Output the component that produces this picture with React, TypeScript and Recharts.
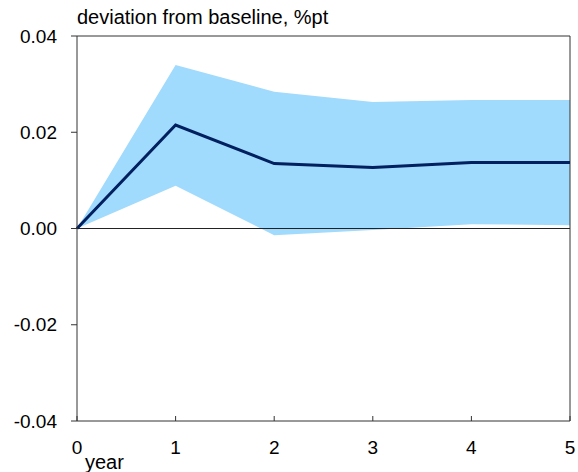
import React from "react";
import {
  Area,
  ComposedChart,
  Line,
  ReferenceLine,
  XAxis,
  YAxis,
} from "recharts";

const years = [0, 1, 2, 3, 4, 5];
const central = [0, 0.0215, 0.0135, 0.0127, 0.0137, 0.0137];
const upper = [0, 0.034, 0.0284, 0.0263, 0.0267, 0.0267];
const lower = [0, 0.0089, -0.0014, -0.0003, 0.0009, 0.0007];
const yTicks = [-0.04, -0.02, 0, 0.02, 0.04];

const data = years.map((year, i) => ({
  year,
  mid: central[i],
  band: [lower[i], upper[i]],
}));

const FONT = "'Liberation Sans', Arial, sans-serif";
const AXIS = "#333";

function XTick(props: any) {
  const { x, y, payload } = props;
  return (
    <g>
      <line x1={x} x2={x} y1={y - 5} y2={y} stroke={AXIS} strokeWidth={1} />
      <text x={x} y={y + 33} textAnchor="middle" fontSize={19} fontFamily={FONT} fill="#000">
        {payload.value}
      </text>
    </g>
  );
}

export default function App() {
  return (
    <div style={{ position: "absolute", left: 0, top: 0, width: 578, height: 472, background: "#fff" }}>
      <div
        style={{
          position: "absolute",
          left: 77,
          top: 6,
          fontFamily: FONT,
          fontSize: 20,
          lineHeight: "22px",
          color: "#000",
          whiteSpace: "nowrap",
        }}
      >
        deviation from baseline, %pt
      </div>
      <div
        style={{
          position: "absolute",
          left: 85,
          top: 451,
          fontFamily: FONT,
          fontSize: 20,
          lineHeight: "22px",
          color: "#000",
        }}
      >
        year
      </div>
      <ComposedChart
        width={578}
        height={472}
        data={data}
        margin={{ top: 36, right: 8, bottom: 0, left: 0 }}
      >
        <XAxis
          dataKey="year"
          type="number"
          domain={[0, 5]}
          ticks={years}
          stroke={AXIS}
          tickLine={false}
          tickSize={0}
          tickMargin={0}
          height={51}
          tick={<XTick />}
          interval={0}
        />
        <YAxis
          type="number"
          domain={[-0.04, 0.04]}
          ticks={yTicks}
          width={77}
          stroke={AXIS}
          tickSize={6}
          tickMargin={14}
          tickFormatter={(v: number) => v.toFixed(2)}
          tick={{ fontSize: 19, fontFamily: FONT, fill: "#000" }}
          interval={0}
        />
        <Area
          dataKey="band"
          type="linear"
          stroke="none"
          fill="#a0dafc"
          fillOpacity={1}
          isAnimationActive={false}
        />
        <ReferenceLine y={0} stroke="#222" strokeWidth={1} />
        <ReferenceLine y={0.04} stroke={AXIS} strokeWidth={1} />
        <ReferenceLine x={5} stroke={AXIS} strokeWidth={1} />
        <Line
          dataKey="mid"
          type="linear"
          stroke="#002060"
          strokeWidth={3}
          dot={false}
          isAnimationActive={false}
        />
      </ComposedChart>
    </div>
  );
}
